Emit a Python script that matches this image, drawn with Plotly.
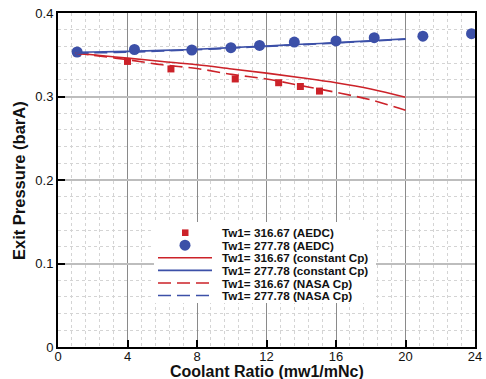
import plotly.graph_objects as go

# Experimental data (AEDC)
x_aedc_316 = [1.1, 4.0, 6.5, 10.2, 12.7, 13.95, 15.05]
p_aedc_316 = [0.352, 0.342, 0.333, 0.321, 0.3165, 0.312, 0.3065]
x_aedc_277 = [1.1, 4.4, 7.7, 9.95, 11.6, 13.6, 16.0, 18.2, 21.0, 23.8]
p_aedc_277 = [0.3533, 0.3563, 0.3557, 0.3585, 0.3612, 0.3652, 0.3665, 0.3705, 0.3722, 0.3752]

# Model curves
x_model = [1, 2, 4, 6, 8, 10, 12, 14, 16, 18, 20]
p_const_316 = [0.352, 0.350, 0.346, 0.342, 0.338, 0.333, 0.328, 0.3225, 0.3165, 0.309, 0.299]
p_const_277 = [0.353, 0.3533, 0.354, 0.3552, 0.3565, 0.3585, 0.3605, 0.3625, 0.3645, 0.3667, 0.369]
p_nasa_316 = [0.352, 0.3495, 0.344, 0.338, 0.3335, 0.3265, 0.321, 0.313, 0.305, 0.296, 0.2835]
p_nasa_277 = [0.352, 0.3523, 0.353, 0.3545, 0.356, 0.358, 0.360, 0.362, 0.364, 0.3663, 0.3685]

x_ticks = [0, 4, 8, 12, 16, 20, 24]
y_ticks = [0, 0.1, 0.2, 0.3, 0.4]
y_ticklabels = ["0", "0.1", "0.2", "0.3", "0.4"]

x_title = "Coolant Ratio (mw1/mNc)"
y_title = "Exit Pressure (barA)"

legend_labels = [
    "Tw1= 316.67 (AEDC)",
    "Tw1= 277.78 (AEDC)",
    "Tw1= 316.67 (constant Cp)",
    "Tw1= 277.78 (constant Cp)",
    "Tw1= 316.67 (NASA Cp)",
    "Tw1= 277.78 (NASA Cp)",
]

RED = "#cc2229"
BLUE = "#3c50a8"
DASH = "13px,6px"
FONT = "Liberation Sans, Arial, sans-serif"

W, H = 486, 379
ML, MR, MT, MB = 58, 11, 13, 32
PW, PH = W - ML - MR, H - MT - MB


def px(xp):
    return (xp - ML) / PW


def py(yp):
    return (H - MB - yp) / PH


fig = go.Figure()
fig.add_trace(go.Scatter(x=x_aedc_316, y=p_aedc_316, mode="markers",
                         marker=dict(symbol="square", size=7, color=RED),
                         name=legend_labels[0], cliponaxis=False))
fig.add_trace(go.Scatter(x=x_aedc_277, y=p_aedc_277, mode="markers",
                         marker=dict(symbol="circle", size=11, color=BLUE),
                         name=legend_labels[1], cliponaxis=False))
fig.add_trace(go.Scatter(x=x_model, y=p_const_316, mode="lines",
                         line=dict(color=RED, width=1.6, shape="spline"),
                         name=legend_labels[2]))
fig.add_trace(go.Scatter(x=x_model, y=p_const_277, mode="lines",
                         line=dict(color=BLUE, width=1.6, shape="spline"),
                         name=legend_labels[3]))
fig.add_trace(go.Scatter(x=x_model, y=p_nasa_316, mode="lines",
                         line=dict(color=RED, width=1.6, dash=DASH, shape="spline"),
                         name=legend_labels[4]))
fig.add_trace(go.Scatter(x=x_model, y=p_nasa_277, mode="lines",
                         line=dict(color=BLUE, width=1.6, dash=DASH, shape="spline"),
                         name=legend_labels[5]))

axis_common = dict(
    showline=True, linecolor="black", linewidth=2, mirror=True,
    ticks="inside", ticklen=7, tickwidth=2, tickcolor="black",
    showgrid=True, zeroline=False, automargin=False,
    tickfont=dict(family=FONT, size=13, color="#111"),
)

fig.update_xaxes(**axis_common, range=[0, 24], tickvals=x_ticks, ticklabelstandoff=-4,
                 gridcolor="#8a8a8a", gridwidth=1,
                 minor=dict(dtick=0.8, showgrid=True, gridcolor="#d4d4d4", griddash="dot", gridwidth=1))
fig.update_yaxes(**axis_common, range=[0, 0.4], tickvals=y_ticks, ticktext=y_ticklabels,
                 gridcolor="#bdbdbd", gridwidth=1.5,
                 minor=dict(dtick=0.02, showgrid=True, gridcolor="#d4d4d4", griddash="dot", gridwidth=1))

annotations = [
    dict(text="<b>" + x_title + "</b>", xref="paper", yref="paper",
         x=px(266.5), y=py(371.5), xanchor="center", yanchor="middle", showarrow=False,
         borderpad=0, font=dict(family=FONT, size=16, color="#111")),
    dict(text="<b>" + y_title + "</b>", xref="paper", yref="paper", textangle=-90,
         x=px(19), y=py(181), xanchor="center", yanchor="middle", showarrow=False,
         font=dict(family=FONT, size=16.5, color="#111")),
]

# Manual legend (compact, like the reference)
shapes = [dict(type="rect", xref="paper", yref="paper",
               x0=px(154), x1=px(376), y0=py(303), y1=py(222),
               fillcolor="white", line=dict(width=0), layer="above")]
row_y = [232.7, 245.2, 257.8, 270.4, 283.0, 295.5]
styles = [("sq", RED), ("ci", BLUE), ("solid", RED), ("solid", BLUE), (DASH, RED), (DASH, BLUE)]
for yp, (kind, col), lab in zip(row_y, styles, legend_labels):
    if kind == "sq":
        shapes.append(dict(type="rect", xref="paper", yref="paper",
                           x0=px(182), x1=px(188.5), y0=py(yp + 3.3), y1=py(yp - 3.3),
                           fillcolor=col, line=dict(width=0), layer="above"))
    elif kind == "ci":
        shapes.append(dict(type="circle", xref="paper", yref="paper",
                           x0=px(179.5), x1=px(190.5), y0=py(yp + 5.5), y1=py(yp - 5.5),
                           fillcolor=col, line=dict(width=0), layer="above"))
    else:
        shapes.append(dict(type="line", xref="paper", yref="paper",
                           x0=px(158), x1=px(212), y0=py(yp), y1=py(yp),
                           line=dict(color=col, width=1.6, dash=kind), layer="above"))
    annotations.append(dict(text="<b>" + lab + "</b>", xref="paper", yref="paper",
                            x=px(221), y=py(yp), xanchor="left", yanchor="middle",
                            showarrow=False, borderpad=0,
                            font=dict(family=FONT, size=11.7, color="#111")))

fig.update_layout(
    width=W, height=H,
    margin=dict(l=ML, r=MR, t=MT, b=MB),
    paper_bgcolor="white", plot_bgcolor="white",
    showlegend=False,
    shapes=shapes, annotations=annotations,
)

fig.write_html("out.html", config={"displayModeBar": False},
               post_script="document.body.style.margin='0';document.body.style.overflow='hidden';")
